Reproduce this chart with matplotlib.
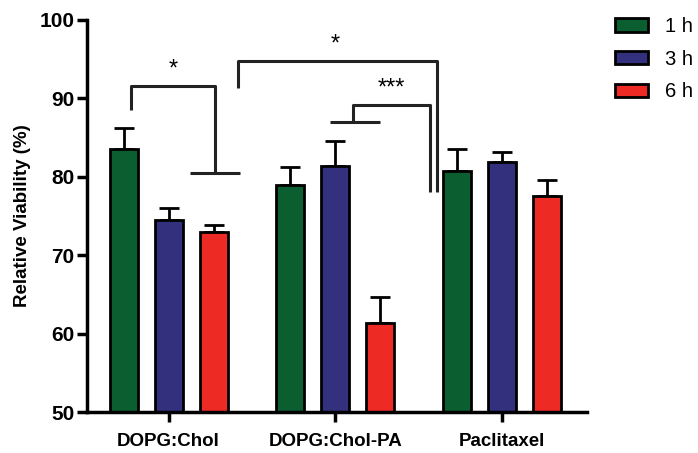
import numpy as np
import matplotlib.pyplot as plt

plt.rcParams['font.family'] = ['Liberation Sans', 'DejaVu Sans']

groups = ['DOPG:Chol', 'DOPG:Chol-PA', 'Paclitaxel']
times = ['1 h', '3 h', '6 h']
colors = ['#0b5e30', '#33307e', '#ee2a25']

vals_1h = [83.5, 78.9, 80.7]
vals_3h = [74.5, 81.4, 81.9]
vals_6h = [73.0, 61.3, 77.6]
err_1h = [2.7, 2.4, 2.9]
err_3h = [1.5, 3.1, 1.3]
err_6h = [0.8, 3.4, 2.0]

fig = plt.figure(figsize=(6.98, 4.53), dpi=100)
ax = fig.add_axes([0.1246, 0.0905, 0.716, 0.8655])

x = np.arange(len(groups))
offsets = [-0.27, 0.0, 0.27]
w = 0.168
for vals, errs, c, lab, off in zip([vals_1h, vals_3h, vals_6h],
                                   [err_1h, err_3h, err_6h],
                                   colors, times, offsets):
    ax.bar(x + off, vals, w, bottom=0, color=c, edgecolor='black',
           linewidth=2, label=lab, zorder=2)
    ax.errorbar(x + off, vals, yerr=[np.zeros(len(errs)), errs], fmt='none',
                ecolor='black', elinewidth=2, capsize=7, capthick=2, zorder=1)

ax.set_ylim(50, 100)
ax.set_xlim(-0.49, 2.51)
ax.set_yticks([50, 60, 70, 80, 90, 100])
ax.set_xticks(x)
ax.set_xticklabels(groups, fontsize=13.5, fontweight='bold')
for t in ax.get_yticklabels():
    t.set_fontsize(15)
    t.set_fontweight('bold')
ax.set_ylabel('Relative Viability (%)', fontsize=13.5, fontweight='bold',
              labelpad=6)
for s in ['top', 'right']:
    ax.spines[s].set_visible(False)
for s in ['left', 'bottom']:
    ax.spines[s].set_linewidth(2.5)
ax.tick_params(width=2.5, length=7, pad=2)
ax.tick_params(axis='x', pad=8)

# significance brackets
lk = dict(color='#222222', lw=2.2, solid_capstyle='butt', clip_on=False)
ax.plot([-0.223, -0.223, 0.277, 0.277], [88.5, 91.6, 91.6, 80.5], **lk)
ax.plot([0.126, 0.43], [80.5, 80.5], **lk)
ax.text(0.03, 92.3, '*', ha='center', va='bottom', fontsize=17)

ax.plot([0.415, 0.415, 1.609, 1.609], [91.3, 94.7, 94.7, 78.1], **lk)
ax.text(1.0, 95.4, '*', ha='center', va='bottom', fontsize=17)

ax.plot([1.106, 1.106, 1.569, 1.569], [87.0, 89.2, 89.2, 78.1], **lk)
ax.plot([0.966, 1.269], [87.0, 87.0], **lk)
ax.text(1.34, 89.8, '***', ha='center', va='bottom', fontsize=17)

leg = fig.legend(*ax.get_legend_handles_labels(), loc='upper left',
                 bbox_to_anchor=(615 / 698, 1 - 17 / 453), frameon=False,
                 fontsize=14.5, borderpad=0, borderaxespad=0,
                 handlelength=1.65, handleheight=0.65,
                 labelspacing=0.68, handletextpad=0.85)
for p in leg.get_patches():
    p.set_linewidth(2)

fig.savefig('out.png', dpi=100)
